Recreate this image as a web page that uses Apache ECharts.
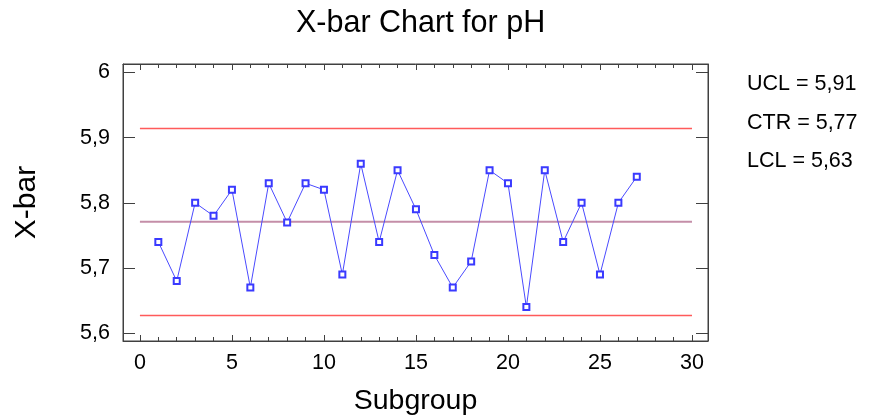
<!DOCTYPE html>
<html><head><meta charset="utf-8">
<script src="https://cdn.jsdelivr.net/npm/echarts@6/dist/echarts.min.js"></script>
<style>html,body{margin:0;padding:0;background:#fff}#c{width:869px;height:419px}</style>
</head><body><div id="c"></div>
<script>
const subgroups = [1,2,3,4,5,6,7,8,9,10,11,12,13,14,15,16,17,18,19,20,21,22,23,24,25,26,27];
const xbar = [5.74,5.68,5.80,5.78,5.82,5.67,5.83,5.77,5.83,5.82,5.69,5.86,5.74,5.85,5.79,5.72,5.67,5.71,5.85,5.83,5.64,5.85,5.74,5.80,5.69,5.80,5.84];
const UCL = 5.914, CTR = 5.771, LCL = 5.627;
const limitSpan = [0, 30];
const xTicks = [0,5,10,15,20,25,30];
const xMinor = [0,1,2,3,4,5,6,7,8,9,10,11,12,13,14,15,16,17,18,19,20,21,22,23,24,25,26,27,28,29,30];
const yTicks = [5.6,5.7,5.8,5.9,6.0];
const limitLabels = ['UCL = 5,91','CTR = 5,77','LCL = 5,63'];

const FONT = 'Liberation Sans, Arial, sans-serif';
const frame = '#404040';
const fmtY = v => (Math.round(v*10)/10).toFixed(1).replace('.', ',').replace(/^6,0$/,'6');

const chart = echarts.init(document.getElementById('c'));
const xBase = {type:'value', min:-0.92, max:30.87, splitLine:{show:false}, gridIndex:0};
chart.setOption({
  animation:false,
  title:{text:'X-bar Chart for pH', left:291, top:3,
    textStyle:{fontFamily:FONT, fontSize:30.5, fontWeight:'normal', color:'#000'}},
  grid:{left:123, right:161, top:64, bottom:78, outerBoundsMode:'none', containLabel:false,
    show:true, borderColor:frame, borderWidth:1},
  xAxis:[
    Object.assign({}, xBase, {position:'bottom', name:'Subgroup', nameLocation:'middle', nameGap:46,
      nameTextStyle:{fontFamily:FONT, fontSize:28.5, color:'#000'},
      axisLine:{show:true, onZero:false, lineStyle:{color:frame}},
      axisTick:{show:true, inside:true, length:6, customValues:xTicks, lineStyle:{color:frame}},
      axisLabel:{show:true, customValues:xTicks, margin:11, fontFamily:FONT, fontSize:21.5, color:'#000', formatter:v=>String(v)}}),
    Object.assign({}, xBase, {position:'bottom',
      axisLine:{show:false, onZero:false}, axisLabel:{show:false},
      axisTick:{show:true, inside:true, length:4, customValues:xMinor, lineStyle:{color:frame}}}),
    Object.assign({}, xBase, {position:'top',
      axisLine:{show:true, onZero:false, lineStyle:{color:frame}}, axisLabel:{show:false},
      axisTick:{show:true, inside:true, length:6, customValues:xTicks, lineStyle:{color:frame}}}),
    Object.assign({}, xBase, {position:'top',
      axisLine:{show:false, onZero:false}, axisLabel:{show:false},
      axisTick:{show:true, inside:true, length:4, customValues:xMinor, lineStyle:{color:frame}}})
  ],
  yAxis:[
    {type:'value', min:5.588, max:6.013, position:'left', splitLine:{show:false},
      name:'X-bar', nameLocation:'middle', nameGap:81, nameRotate:90,
      nameTextStyle:{fontFamily:FONT, fontSize:30, color:'#000'},
      axisLine:{show:true, onZero:false, lineStyle:{color:frame}},
      axisTick:{show:true, inside:true, length:12, customValues:yTicks, lineStyle:{color:frame}},
      axisLabel:{show:true, customValues:yTicks, margin:13, fontFamily:FONT, fontSize:21.5, color:'#000', formatter:fmtY}},
    {type:'value', min:5.588, max:6.013, position:'right', splitLine:{show:false},
      axisLine:{show:true, onZero:false, lineStyle:{color:frame}}, axisLabel:{show:false},
      axisTick:{show:true, inside:true, length:12, customValues:yTicks, lineStyle:{color:frame}}}
  ],
  series:[
    {type:'line', xAxisIndex:0, yAxisIndex:0, data:limitSpan.map(x=>[x,UCL]), symbol:'none',
      lineStyle:{color:'#ff5a5a', width:1.5}, silent:true},
    {type:'line', xAxisIndex:0, yAxisIndex:0, data:limitSpan.map(x=>[x,CTR]), symbol:'none',
      lineStyle:{color:'#c48ea8', width:2}, silent:true},
    {type:'line', xAxisIndex:0, yAxisIndex:0, data:limitSpan.map(x=>[x,LCL]), symbol:'none',
      lineStyle:{color:'#ff5a5a', width:1.5}, silent:true},
    {type:'line', xAxisIndex:0, yAxisIndex:0, data:subgroups.map((s,i)=>[s,xbar[i]]),
      symbol:'emptyRect', symbolSize:6, showAllSymbol:true, z:5,
      lineStyle:{color:'#4a4aff', width:1}, itemStyle:{color:'#3a3aff', borderWidth:1}}
  ],
  graphic: limitLabels.map((t,i)=>({type:'text', left:747, top:[73,112,150][i],
    style:{text:t, fontFamily:FONT, fontSize:21.5, fill:'#000'}}))
});
</script></body></html>
